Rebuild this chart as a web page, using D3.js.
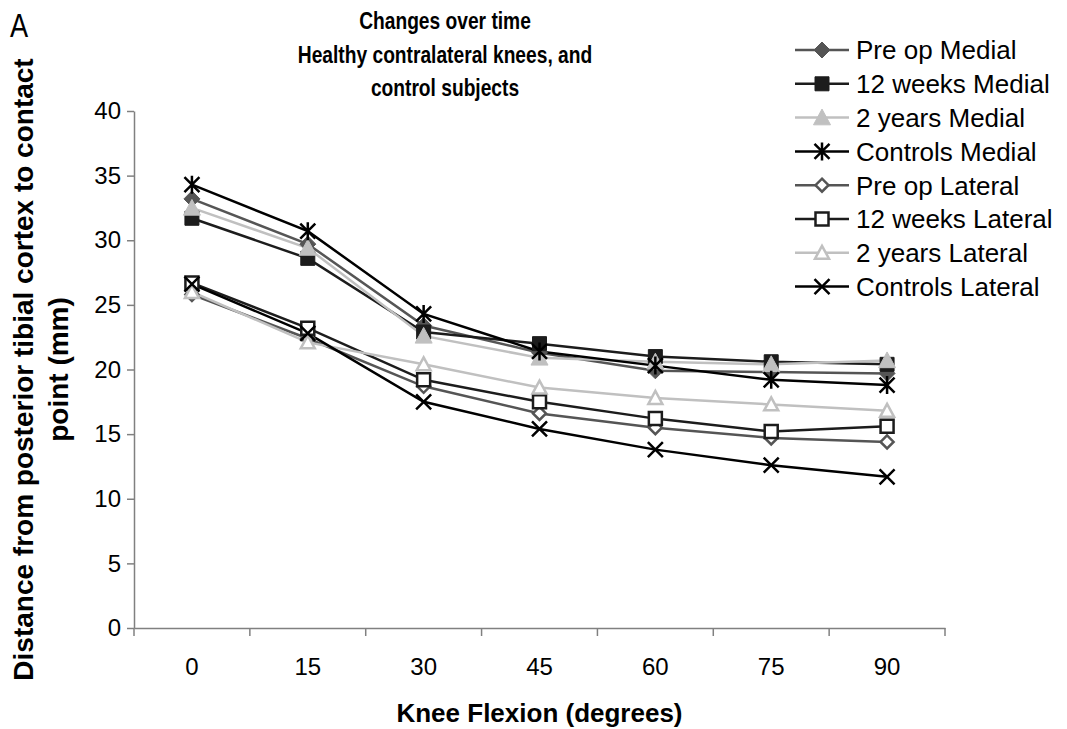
<!DOCTYPE html>
<html>
<head>
<meta charset="utf-8">
<script src="https://cdn.jsdelivr.net/npm/d3@7"></script>
<style>
  body { margin: 0; background: #fff; }
  text { font-family: Arial, "Liberation Sans", sans-serif; fill: #000; }
</style>
</head>
<body>
<div id="chart"></div>
<script>
// knee flexion angles (degrees)
var angles = [0, 15, 30, 45, 60, 75, 90];

var preOpMedial     = [33.2, 29.7, 23.4, 21.3, 19.9, 19.8, 19.7];
var weeks12Medial   = [31.7, 28.6, 22.9, 22.0, 21.0, 20.6, 20.4];
var years2Medial    = [32.5, 29.4, 22.6, 20.9, 20.6, 20.4, 20.7];
var controlsMedial  = [34.3, 30.7, 24.3, 21.4, 20.3, 19.2, 18.8];
var preOpLateral    = [25.8, 22.4, 18.7, 16.6, 15.5, 14.7, 14.4];
var weeks12Lateral  = [26.7, 23.2, 19.2, 17.5, 16.2, 15.2, 15.6];
var years2Lateral   = [26.0, 22.1, 20.4, 18.6, 17.8, 17.3, 16.8];
var controlsLateral = [26.6, 22.8, 17.5, 15.4, 13.8, 12.6, 11.7];

var yTicks = [0, 5, 10, 15, 20, 25, 30, 35, 40];

var series = [
  {name: "Pre op Medial",     values: preOpMedial,     color: "#555555", marker: "diamond",  fill: true},
  {name: "12 weeks Medial",   values: weeks12Medial,   color: "#1c1c1c", marker: "square",   fill: true},
  {name: "2 years Medial",    values: years2Medial,    color: "#c0c0c0", marker: "triangle", fill: true},
  {name: "Controls Medial",   values: controlsMedial,  color: "#000000", marker: "star",     fill: false},
  {name: "Pre op Lateral",    values: preOpLateral,    color: "#555555", marker: "diamond",  fill: false},
  {name: "12 weeks Lateral",  values: weeks12Lateral,  color: "#1c1c1c", marker: "square",   fill: false},
  {name: "2 years Lateral",   values: years2Lateral,   color: "#c0c0c0", marker: "triangle", fill: false},
  {name: "Controls Lateral",  values: controlsLateral, color: "#000000", marker: "x",        fill: false}
];

var W = 1067, H = 729;
var plot = {left: 134, right: 945, top: 111, bottom: 628};

var svg = d3.select("#chart").append("svg")
  .attr("width", W)
  .attr("height", H);

var x = d3.scaleBand()
  .domain(angles)
  .range([plot.left, plot.right])
  .paddingInner(0).paddingOuter(0);

var y = d3.scaleLinear()
  .domain([0, 40])
  .range([plot.bottom, plot.top]);

function cx(i) { return x(angles[i]) + x.bandwidth() / 2; }

// marker path, centered at 0,0
function markerPath(type, s) {
  var h = s / 2;
  if (type === "diamond") return "M0," + (-h) + "L" + h + ",0L0," + h + "L" + (-h) + ",0Z";
  if (type === "square") return "M" + (-h) + "," + (-h) + "H" + h + "V" + h + "H" + (-h) + "Z";
  if (type === "triangle") return "M0," + (-h) + "L" + h + "," + (h * 0.85) + "L" + (-h) + "," + (h * 0.85) + "Z";
  if (type === "x") return "M" + (-h) + "," + (-h) + "L" + h + "," + h + "M" + h + "," + (-h) + "L" + (-h) + "," + h;
  // asterisk
  return "M" + (-h) + "," + (-h) + "L" + h + "," + h + "M" + h + "," + (-h) + "L" + (-h) + "," + h + "M0," + (-h * 1.2) + "V" + (h * 1.2);
}

function markerSize(s) {
  if (s.marker === "diamond") return s.fill ? 16 : 13;
  if (s.marker === "square") return s.fill ? 14 : 13;
  if (s.marker === "triangle") return s.fill ? 17 : 14;
  return 15;
}

function drawMarker(g, s) {
  var p = g.append("path")
    .attr("d", markerPath(s.marker, markerSize(s)));
  if (s.marker === "x" || s.marker === "star") {
    p.attr("fill", "none").attr("stroke", s.color).attr("stroke-width", 2.5);
  } else if (s.fill) {
    p.attr("fill", s.color).attr("stroke", s.color).attr("stroke-width", 1);
  } else {
    p.attr("fill", "#fff").attr("stroke", s.color).attr("stroke-width", 2.5);
  }
}

// axes
var yAxis = svg.append("g")
  .attr("transform", "translate(" + plot.left + ",0)")
  .call(d3.axisLeft(y).tickValues(yTicks).tickSize(7).tickSizeOuter(0).tickPadding(6));
yAxis.select(".domain").attr("stroke", "#808080").attr("stroke-width", 1.5);
yAxis.selectAll(".tick line").attr("stroke", "#808080").attr("stroke-width", 1.5);
yAxis.selectAll(".tick text").style("font-size", "24px");

var xAxis = svg.append("g")
  .attr("transform", "translate(0," + plot.bottom + ")")
  .call(d3.axisBottom(x).tickSize(0).tickSizeOuter(0).tickPadding(30));
xAxis.select(".domain").attr("stroke", "#808080").attr("stroke-width", 1.5);
xAxis.selectAll(".tick text").style("font-size", "24px");

// category boundary ticks
var bounds = angles.map(function(a) { return x(a); }).concat([x(angles[angles.length - 1]) + x.bandwidth()]);
svg.append("g").selectAll("line").data(bounds).enter().append("line")
  .attr("x1", function(d) { return d; })
  .attr("x2", function(d) { return d; })
  .attr("y1", plot.bottom)
  .attr("y2", plot.bottom + 8)
  .attr("stroke", "#808080")
  .attr("stroke-width", 1.5);

// series lines and markers
var line = d3.line()
  .x(function(d, i) { return cx(i); })
  .y(function(d) { return y(d); });

series.forEach(function(s) {
  svg.append("path")
    .datum(s.values)
    .attr("d", line)
    .attr("fill", "none")
    .attr("stroke", s.color)
    .attr("stroke-width", 2.5);
});

series.forEach(function(s) {
  s.values.forEach(function(v, i) {
    var g = svg.append("g").attr("transform", "translate(" + cx(i) + "," + y(v) + ")");
    drawMarker(g, s);
  });
});

// legend
var legend = svg.append("g").attr("transform", "translate(795,50)");
series.forEach(function(s, i) {
  var g = legend.append("g").attr("transform", "translate(0," + (i * 33.8) + ")");
  g.append("line")
    .attr("x1", 0).attr("x2", 54)
    .attr("y1", 0).attr("y2", 0)
    .attr("stroke", s.color).attr("stroke-width", 2.5);
  var m = g.append("g").attr("transform", "translate(27,0)");
  drawMarker(m, s);
  g.append("text")
    .attr("x", 61).attr("y", 0)
    .attr("dy", "0.36em")
    .style("font-size", "26px")
    .text(s.name);
});

// title (narrow bold)
var title = ["Changes over time", "Healthy contralateral knees, and", "control subjects"];
svg.append("g").selectAll("text").data(title).enter().append("text")
  .attr("transform", function(d, i) { return "translate(445," + (29 + i * 33.5) + ") scale(0.8,1)"; })
  .attr("text-anchor", "middle")
  .style("font-size", "24px")
  .style("font-weight", "bold")
  .text(function(d) { return d; });

svg.append("text")
  .attr("transform", "translate(10,37) scale(0.8,1)")
  .style("font-size", "34px")
  .text("A");

// axis titles
svg.append("text")
  .attr("x", (plot.left + plot.right) / 2)
  .attr("y", 722)
  .attr("text-anchor", "middle")
  .style("font-size", "26px")
  .style("font-weight", "bold")
  .text("Knee Flexion (degrees)");

var yTitle = ["Distance from posterior tibial cortex to contact", "point (mm)"];
svg.append("g")
  .attr("transform", "translate(0," + ((plot.top + plot.bottom) / 2) + ") rotate(-90)")
  .selectAll("text").data(yTitle).enter().append("text")
  .attr("x", 0)
  .attr("y", function(d, i) { return 33 + i * 35; })
  .attr("text-anchor", "middle")
  .style("font-size", "28px")
  .style("font-weight", "bold")
  .text(function(d) { return d; });
</script>
</body>
</html>
